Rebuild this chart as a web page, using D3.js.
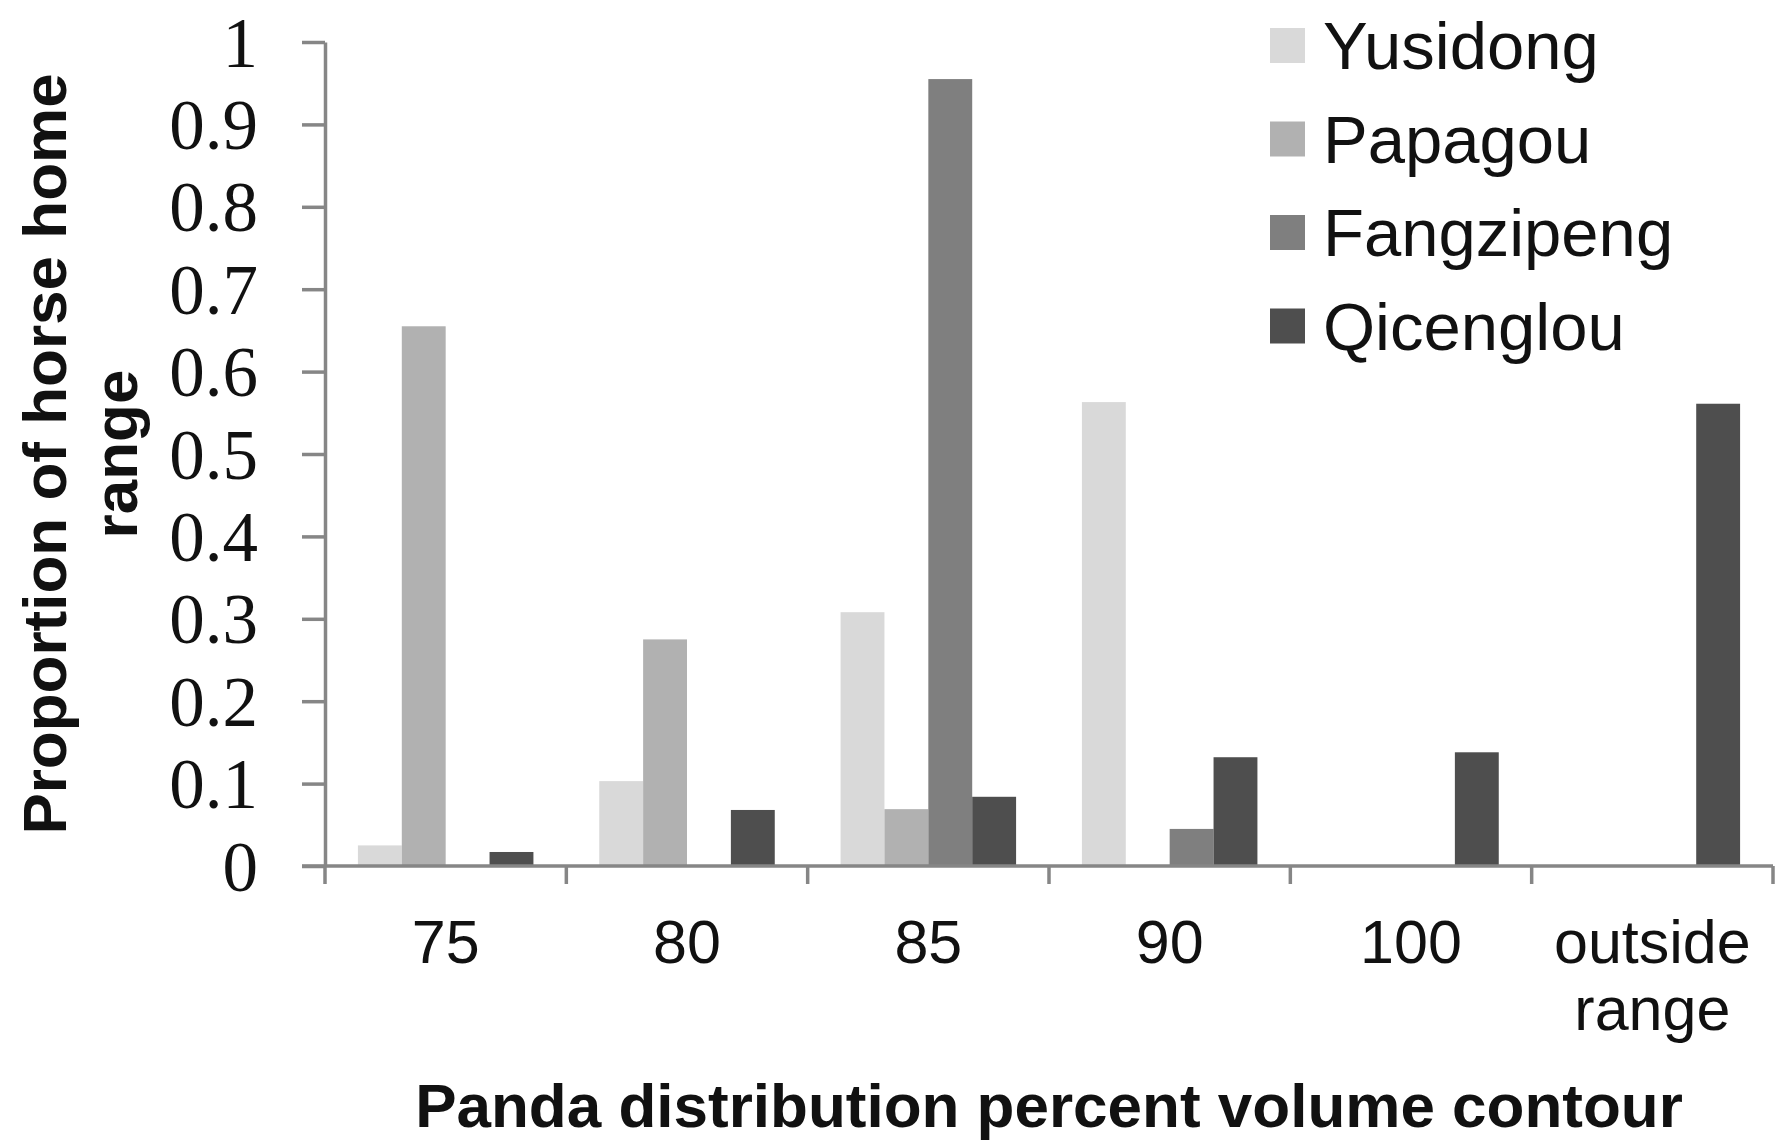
<!DOCTYPE html>
<html>
<head>
<meta charset="utf-8">
<script src="https://cdn.jsdelivr.net/npm/d3@7"></script>
<style>
  html, body { margin: 0; padding: 0; background: #ffffff; }
  svg { display: block; }
</style>
</head>
<body>
<svg id="chart" width="1775" height="1143"></svg>
<script>
// ---- data ----
const categories = ["75", "80", "85", "90", "100", "outside range"];
const seriesNames = ["Yusidong", "Papagou", "Fangzipeng", "Qicenglou"];
const yusidong   = [0.025, 0.103, 0.308, 0.563, 0, 0];
const papagou    = [0.655, 0.275, 0.069, 0, 0, 0];
const fangzipeng = [0, 0, 0.955, 0.045, 0, 0];
const qicenglou  = [0.017, 0.068, 0.084, 0.132, 0.138, 0.561];
const yTickValues = [0, 0.1, 0.2, 0.3, 0.4, 0.5, 0.6, 0.7, 0.8, 0.9, 1];
const yTickLabels = ["0", "0.1", "0.2", "0.3", "0.4", "0.5", "0.6", "0.7", "0.8", "0.9", "1"];
const seriesColors = ["#d9d9d9", "#b1b1b1", "#7f7f7f", "#4e4e4e"];
const xTitle = "Panda distribution percent volume contour";
const yTitleLines = ["Proportion of horse home", "range"];

const seriesValues = [yusidong, papagou, fangzipeng, qicenglou];

// ---- layout ----
const svg = d3.select("#chart");
const plotLeft = 325, plotRight = 1773, plotTop = 42, plotBottom = 866;
const axisColor = "#868686";

const x0 = d3.scaleBand().domain(categories).range([plotLeft, plotRight]).paddingInner(0).paddingOuter(0);
const x1 = d3.scaleBand().domain(seriesNames).range([0, x0.bandwidth()]).paddingInner(0).paddingOuter(0.75);
const y = d3.scaleLinear().domain([0, 1]).range([plotBottom, plotTop]);
const color = d3.scaleOrdinal().domain(seriesNames).range(seriesColors);

// bars
const rows = [];
categories.forEach((c, ci) => {
  seriesNames.forEach((s, si) => {
    rows.push({ cat: c, series: s, value: seriesValues[si][ci] });
  });
});

svg.append("g")
  .selectAll("rect")
  .data(rows.filter(d => d.value > 0))
  .join("rect")
  .attr("x", d => x0(d.cat) + x1(d.series))
  .attr("width", x1.bandwidth())
  .attr("y", d => y(d.value))
  .attr("height", d => y(0) - y(d.value))
  .attr("fill", d => color(d.series));

// y axis
const yAxis = d3.axisLeft(y)
  .tickValues(yTickValues)
  .tickFormat((d, i) => yTickLabels[i])
  .tickSize(23)
  .tickSizeOuter(0)
  .tickPadding(44);

const gy = svg.append("g").attr("transform", `translate(${plotLeft},0)`).call(yAxis);
gy.select(".domain").attr("stroke", axisColor).attr("stroke-width", 3.5);
gy.selectAll(".tick line").attr("stroke", axisColor).attr("stroke-width", 3.5);
gy.selectAll(".tick text")
  .attr("font-family", "'Liberation Serif', 'Times New Roman', serif")
  .attr("font-size", 71)
  .attr("fill", "#111")
  .attr("dy", "0.34em");

// x axis baseline
svg.append("line")
  .attr("x1", plotLeft - 23).attr("x2", plotRight)
  .attr("y1", y(0)).attr("y2", y(0))
  .attr("stroke", axisColor).attr("stroke-width", 3.5);

// x boundary ticks
const boundaries = categories.map(c => x0(c)).concat([x0(categories[categories.length - 1]) + x0.bandwidth()]);
svg.append("g")
  .selectAll("line")
  .data(boundaries)
  .join("line")
  .attr("x1", d => d).attr("x2", d => d)
  .attr("y1", y(0)).attr("y2", y(0) + 18)
  .attr("stroke", axisColor).attr("stroke-width", 3.5);

// x category labels
const xl = svg.append("g")
  .selectAll("text")
  .data(categories)
  .join("text")
  .attr("x", d => x0(d) + x0.bandwidth() / 2)
  .attr("y", 963)
  .attr("text-anchor", "middle")
  .attr("font-family", "'Liberation Sans', Arial, sans-serif")
  .attr("font-size", 61)
  .attr("fill", "#111");
xl.each(function(d) {
  const words = d === "outside range" ? ["outside", "range"] : [d];
  const t = d3.select(this);
  words.forEach((w, i) => {
    t.append("tspan")
      .attr("x", x0(d) + x0.bandwidth() / 2)
      .attr("dy", i === 0 ? 0 : 67)
      .text(w);
  });
});

// x title
svg.append("text")
  .attr("x", (plotLeft + plotRight) / 2)
  .attr("y", 1127)
  .attr("text-anchor", "middle")
  .attr("font-family", "'Liberation Sans', Arial, sans-serif")
  .attr("font-weight", "bold")
  .attr("font-size", 62)
  .attr("fill", "#111")
  .text(xTitle);

// y title (rotated)
const yt = svg.append("text")
  .attr("transform", `translate(66,${(plotTop + plotBottom) / 2}) rotate(-90)`)
  .attr("text-anchor", "middle")
  .attr("font-family", "'Liberation Sans', Arial, sans-serif")
  .attr("font-weight", "bold")
  .attr("font-size", 62)
  .attr("fill", "#111");
yTitleLines.forEach((line, i) => {
  yt.append("tspan").attr("x", 0).attr("dy", i === 0 ? 0 : 71).text(line);
});

// legend
const legend = svg.append("g").attr("transform", "translate(1270,28)");
const li = legend.selectAll("g")
  .data(seriesNames)
  .join("g")
  .attr("transform", (d, i) => `translate(0,${i * 93.5})`);
li.append("rect")
  .attr("width", 35).attr("height", 35)
  .attr("fill", d => color(d));
li.append("text")
  .attr("x", 53)
  .attr("y", 41)
  .attr("font-family", "'Liberation Sans', Arial, sans-serif")
  .attr("font-size", 67)
  .attr("fill", "#111")
  .text(d => d);
</script>
</body>
</html>
